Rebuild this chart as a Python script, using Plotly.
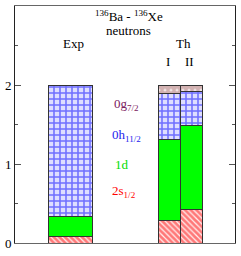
import plotly.graph_objects as go

# Data
columns = ["Exp", "I", "II"]
orbitals = ["2s1/2", "1d", "0h11/2", "0g7/2"]
s_2s12 = [0.085, 0.29, 0.42]
s_1d = [0.245, 1.02, 1.07]
s_0h112 = [1.67, 0.58, 0.43]
s_0g72 = [0.0, 0.11, 0.08]

# Layout helpers (positions on a numeric x axis)
xpos = [2.5, 7.0, 8.0]
widths = [2.0, 1.0, 1.0]

fig = go.Figure()
serif = "Liberation Serif"

def add(vals, name, fill, pattern):
    fig.add_trace(go.Bar(
        x=xpos, y=vals, width=widths, name=name,
        marker=dict(color=fill, line=dict(color="#333333", width=1), pattern=pattern),
        showlegend=False,
    ))

add(s_2s12, orbitals[0], "white",
    dict(shape="\\", fgcolor="#ff0000", bgcolor="#fff0f0", size=4, solidity=0.7, fillmode="overlay"))
add(s_1d, orbitals[1], "#00ff00", None)
add(s_0h112, orbitals[2], "white",
    dict(shape="+", fgcolor="#0000ff", bgcolor="#dedeff", size=6, solidity=0.45, fillmode="overlay"))
add(s_0g72, orbitals[3], "white",
    dict(shape=".", fgcolor="#b07a7a", bgcolor="#f4eaea", size=6, solidity=0.8, fillmode="overlay"))

fig.update_layout(
    barmode="stack",
    width=241, height=256,
    margin=dict(l=14, r=6, t=5, b=12),
    plot_bgcolor="white", paper_bgcolor="white",
    font=dict(family=serif, size=13, color="black"),
    xaxis=dict(range=[0, 10], showticklabels=False, ticks="", showgrid=False, zeroline=False,
               showline=True, linecolor="#666666", linewidth=1, mirror=True),
    yaxis=dict(range=[0, 3], tickvals=[0, 1, 2], ticktext=["0", "1", "2"], ticks="inside",
               ticklen=6, tickcolor="#555555", showgrid=False, zeroline=False, showline=True,
               linecolor="#222222", linewidth=1, mirror="ticks",
               minor=dict(tickvals=[0.5, 1.5, 2.5], ticks="inside", ticklen=3, tickcolor="#555555"),
               tickfont=dict(size=13)),
)

def ann(x, y, text, color="black", size=13, xanchor="center"):
    fig.add_annotation(x=x, y=y, text=text, showarrow=False, xanchor=xanchor, yanchor="middle",
                       font=dict(family=serif, size=size, color=color))

ann(5.16, 2.87, "<sup>136</sup>Ba - <sup>136</sup>Xe")
ann(5.16, 2.69, "neutrons")
ann(2.67, 2.53, "Exp")
ann(7.65, 2.53, "Th")
ann(6.97, 2.30, "I")
ann(7.92, 2.30, "II")
ann(4.40, 1.75, "0g<sub>7/2</sub>", color="#7a2060", xanchor="left")
ann(4.34, 1.36, "0h<sub>11/2</sub>", color="#2222ee", xanchor="left")
ann(4.47, 1.0, "1d", color="#00dd00", xanchor="left")
ann(4.34, 0.65, "2s<sub>1/2</sub>", color="#ff0000", xanchor="left")

fig.write_html("out.html", config={"displayModeBar": False})

with open("out.html", "r", encoding="utf-8") as f:
    html = f.read()
html = html.replace("<head>", "<head><style>html,body{margin:0;padding:0;overflow:hidden;}</style>", 1)
with open("out.html", "w", encoding="utf-8") as f:
    f.write(html)
